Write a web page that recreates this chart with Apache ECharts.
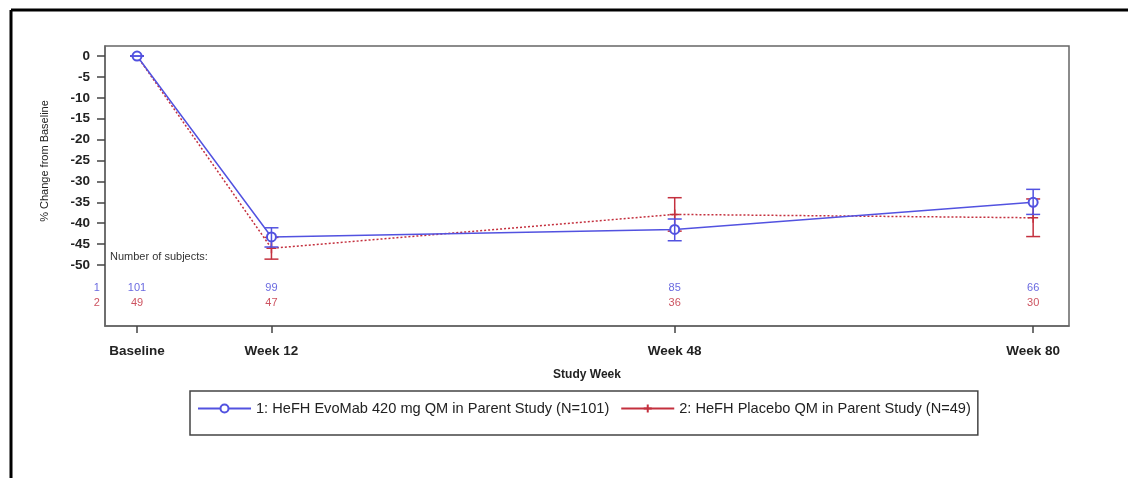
<!DOCTYPE html>
<html>
<head>
<meta charset="utf-8">
<script src="https://cdn.jsdelivr.net/npm/echarts@6/dist/echarts.min.js"></script>
<style>
  html, body { margin: 0; padding: 0; background: #fff; }
  #chart { width: 1128px; height: 478px; }
</style>
</head>
<body>
<div id="chart"></div>
<script>
// study weeks and their labels
var weeks = [0, 12, 48, 80];
var weekLabels = ["Baseline", "Week 12", "Week 48", "Week 80"];
var yTicks = [0, -5, -10, -15, -20, -25, -30, -35, -40, -45, -50];

// group 1: EvoMab 420 mg QM
var evoMean = [0, -43.3, -41.5, -35.0];
var evoLow = [0, -45.7, -44.2, -37.9];
var evoHigh = [0, -41.1, -39.0, -31.9];
var evoN = [101, 99, 85, 66];

// group 2: Placebo QM
var pboMean = [0, -46.0, -37.9, -38.7];
var pboLow = [0, -48.6, -41.9, -43.2];
var pboHigh = [0, -43.4, -33.9, -34.2];
var pboN = [49, 47, 36, 30];

var evoName = "1: HeFH EvoMab 420 mg QM in Parent Study (N=101)";
var pboName = "2: HeFH Placebo QM in Parent Study (N=49)";

var BLUE = "#5252e0";
var RED = "#c4303e";
var FONT = "Arial, 'Liberation Sans', sans-serif";
var PLUS = "path://M5,0L5,10M0,5L10,5";

// rows of the subject-count table, in y units of the plot
var rowY1 = -55.5, rowY2 = -59.1, rowLabelX = -3.6;

var chart = echarts.init(document.getElementById("chart"));

function pairs(ys) {
  return weeks.map(function (w, i) { return [w, ys[i]]; });
}
function bars(lo, hi) {
  return weeks.map(function (w, i) { return [w, lo[i], hi[i]]; });
}
function errorBar(color) {
  return function (params, api) {
    var x = api.value(0);
    var lo = api.coord([x, api.value(1)]);
    var hi = api.coord([x, api.value(2)]);
    var hw = 7;
    var style = { stroke: color, lineWidth: 1.5 };
    return {
      type: "group",
      children: [
        { type: "line", shape: { x1: lo[0], y1: lo[1], x2: hi[0], y2: hi[1] }, style: style },
        { type: "line", shape: { x1: lo[0] - hw, y1: lo[1], x2: lo[0] + hw, y2: lo[1] }, style: style },
        { type: "line", shape: { x1: hi[0] - hw, y1: hi[1], x2: hi[0] + hw, y2: hi[1] }, style: style }
      ]
    };
  };
}
function countData(ns, rowY) {
  return weeks.map(function (w, i) { return [w, rowY, ns[i]]; });
}

var option = {
  backgroundColor: "#fff",
  animation: false,
  textStyle: { fontFamily: FONT },
  grid: {
    left: 105, top: 46, right: 59, bottom: 152,
    show: true, borderColor: "#666", borderWidth: 1.5
  },
  legend: {
    left: 190, top: 391,
    width: 780,
    padding: [10, 7, 19, 7],
    borderColor: "#444", borderWidth: 1.5,
    itemWidth: 53, itemHeight: 10, itemGap: 11,
    textStyle: { fontSize: 14.6, color: "#222", fontFamily: FONT },
    data: [
      { name: evoName },
      { name: pboName, lineStyle: { type: "solid" } }
    ]
  },
  xAxis: {
    type: "value",
    min: -2.86, max: 83.2,
    name: "Study Week",
    nameLocation: "middle",
    nameGap: 43,
    nameTextStyle: { fontSize: 12, fontWeight: "bold", color: "#222" },
    splitLine: { show: false },
    axisLine: { show: true, onZero: false, lineStyle: { color: "#666", width: 1.5 } },
    axisTick: { customValues: weeks, length: 7, lineStyle: { color: "#444", width: 1.5 } },
    axisLabel: {
      customValues: weeks,
      margin: 18,
      fontSize: 13.5, fontWeight: "bold", color: "#222",
      formatter: function (v) { return weekLabels[weeks.indexOf(v)]; }
    }
  },
  yAxis: {
    type: "value",
    min: -64.6, max: 2.4,
    name: "% Change from Baseline",
    nameLocation: "middle",
    nameGap: 55,
    nameTextStyle: { fontSize: 11, color: "#222", padding: [0, 0, 0, 50] },
    splitLine: { show: false },
    axisLine: { show: true, onZero: false, lineStyle: { color: "#666", width: 1.5 } },
    axisTick: { customValues: yTicks, length: 8, lineStyle: { color: "#444", width: 1.5 } },
    axisLabel: {
      customValues: yTicks,
      margin: 15,
      fontSize: 13.5, fontWeight: "bold", color: "#222"
    }
  },
  graphic: [
    { type: "line", shape: { x1: 11, y1: 10, x2: 1128, y2: 10 }, style: { stroke: "#000", lineWidth: 3 } },
    { type: "line", shape: { x1: 11, y1: 10, x2: 11, y2: 478 }, style: { stroke: "#000", lineWidth: 3 } },
    {
      type: "text", left: 110, top: 251,
      style: { text: "Number of subjects:", fontSize: 11, fill: "#333", fontFamily: FONT }
    }
  ],
  series: [
    {
      name: evoName, type: "line",
      data: pairs(evoMean),
      symbol: "emptyCircle", symbolSize: 9,
      itemStyle: { color: BLUE, borderWidth: 1 },
      lineStyle: { color: BLUE, width: 1.5 },
      z: 4
    },
    {
      name: pboName, type: "line",
      data: pairs(pboMean),
      symbol: PLUS, symbolSize: 10,
      itemStyle: { color: RED, borderColor: RED, borderWidth: 1.5 },
      lineStyle: { color: RED, width: 1.5, type: [2, 2] },
      z: 3
    },
    {
      type: "custom", data: bars(evoLow, evoHigh),
      renderItem: errorBar(BLUE), z: 5, silent: true
    },
    {
      type: "custom", data: bars(pboLow, pboHigh),
      renderItem: errorBar(RED), z: 4, silent: true
    },
    {
      type: "scatter", symbolSize: 0, clip: false, silent: true,
      data: countData(evoN, rowY1).concat([[rowLabelX, rowY1, "1"]]),
      label: {
        show: true, position: "inside", fontSize: 11, color: "#4444d8",
        formatter: function (p) { return String(p.value[2]); }
      }
    },
    {
      type: "scatter", symbolSize: 0, clip: false, silent: true,
      data: countData(pboN, rowY2).concat([[rowLabelX, rowY2, "2"]]),
      label: {
        show: true, position: "inside", fontSize: 11, color: "#c02838",
        formatter: function (p) { return String(p.value[2]); }
      }
    }
  ]
};

chart.setOption(option);
</script>
</body>
</html>
